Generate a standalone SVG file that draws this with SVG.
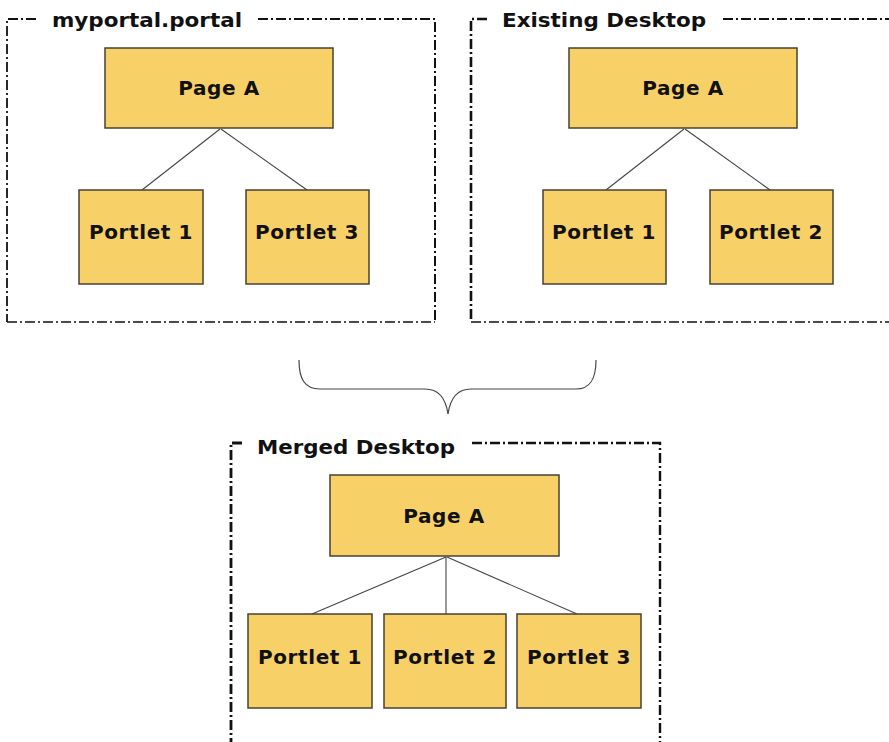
<svg xmlns="http://www.w3.org/2000/svg" width="889" height="742" viewBox="0 0 889 742">
<style>
.bg{fill:#ffffff}
.frame{fill:none;stroke:#111;stroke-dasharray:10 3 2 3}
.node rect{fill:#F7D068;stroke:#4a4030;stroke-width:1.5}
.node text{font-family:"DejaVu Sans","Verdana",sans-serif;font-weight:bold;font-size:20px;letter-spacing:0.6px;fill:#111;text-anchor:middle}
.title{font-family:"DejaVu Sans","Verdana",sans-serif;font-weight:bold;font-size:20px;fill:#111}
.conn line{stroke:#444;stroke-width:1.1}
.brace{fill:none;stroke:#444;stroke-width:1.2}
</style>
<rect class="bg" x="0" y="0" width="889" height="742"/>

<g id="frame-myportal">
  <path class="frame" d="M36,19 L7,19 L7,322" stroke-width="1.8"/>
  <path class="frame" d="M7,322 L435,322" stroke-width="1.4"/>
  <path class="frame" d="M258,19 L435,19 L435,322" stroke-width="2"/>
  <text class="title" x="52" y="27" textLength="190" lengthAdjust="spacingAndGlyphs">myportal.portal</text>
</g>
<g id="frame-existing">
  <path class="frame" d="M487,19 L471,19 L471,322" stroke-width="2.6"/>
  <path class="frame" d="M471,322 L889,322" stroke-width="1.6"/>
  <path class="frame" d="M723,19 L889,19" stroke-width="2"/>
  <text class="title" x="502" y="27" textLength="204" lengthAdjust="spacingAndGlyphs">Existing Desktop</text>
</g>
<g id="frame-merged">
  <path class="frame" d="M242,443 L231,443 L231,742" stroke-width="2.8"/>
  <path class="frame" d="M472,443 L660,443 L660,742" stroke-width="2.4"/>
  <text class="title" x="257" y="454" textLength="198" lengthAdjust="spacingAndGlyphs">Merged Desktop</text>
</g>

<g id="connectors" class="conn">
  <line x1="220" y1="129" x2="142" y2="190"/>
  <line x1="221" y1="129" x2="307" y2="190"/>
  <line x1="684" y1="129" x2="606" y2="190"/>
  <line x1="685" y1="129" x2="770" y2="190"/>
  <line x1="446" y1="557" x2="312" y2="614"/>
  <line x1="446" y1="557" x2="446" y2="614"/>
  <line x1="447" y1="557" x2="577" y2="614"/>
</g>

<path id="merge-brace" class="brace" d="M299,360 C299,378 304,389 320,389 L425,389 C440,389 446,400 448,414 C450,400 456,389 471,389 L576,389 C591,389 596,378 596,360"/>

<g id="p1-page" class="node"><rect x="105" y="48" width="228" height="80"/><text x="219" y="95">Page A</text></g>
<g id="p1-portlet1" class="node"><rect x="79" y="190" width="124" height="94"/><text x="141" y="239">Portlet 1</text></g>
<g id="p1-portlet3" class="node"><rect x="246" y="190" width="123" height="94"/><text x="307" y="239">Portlet 3</text></g>

<g id="p2-page" class="node"><rect x="569" y="48" width="228" height="80"/><text x="683" y="95">Page A</text></g>
<g id="p2-portlet1" class="node"><rect x="543" y="190" width="123" height="94"/><text x="604" y="239">Portlet 1</text></g>
<g id="p2-portlet2" class="node"><rect x="710" y="190" width="123" height="94"/><text x="771" y="239">Portlet 2</text></g>

<g id="p3-page" class="node"><rect x="330" y="475" width="229" height="81"/><text x="444" y="523">Page A</text></g>
<g id="p3-portlet1" class="node"><rect x="248" y="614" width="124" height="94"/><text x="310" y="664">Portlet 1</text></g>
<g id="p3-portlet2" class="node"><rect x="384" y="614" width="122" height="94"/><text x="445" y="664">Portlet 2</text></g>
<g id="p3-portlet3" class="node"><rect x="517" y="614" width="124" height="94"/><text x="579" y="664">Portlet 3</text></g>
</svg>
